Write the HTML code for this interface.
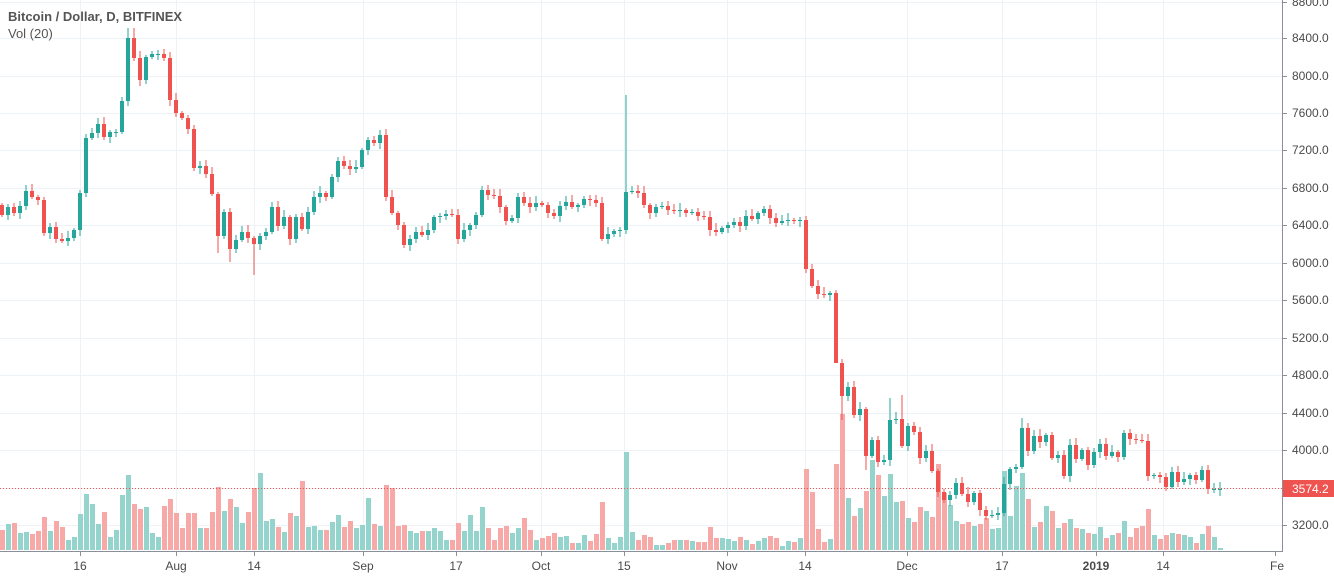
<!DOCTYPE html>
<html><head><meta charset="utf-8"><style>
html,body{margin:0;padding:0;background:#fff;width:1334px;height:576px;overflow:hidden}
svg{display:block}
text{font-family:"Liberation Sans",sans-serif}
</style></head><body>
<svg id="c" width="1334" height="576" xmlns="http://www.w3.org/2000/svg"></svg>
<script>
var C=[215,207,213,206,191,197,200,233,227,239,241,238,230,193,138,133,124,137,132,132,101,38,58,80,57,54,54,58,100,113,118,129,168,166,174,194,236,212,249,240,232,238,244,236,232,207,226,217,239,217,229,212,197,193,197,177,161,166,169,167,150,140,143,135,197,213,225,245,239,232,235,230,217,216,214,215,239,230,225,215,190,195,196,207,221,218,197,203,207,203,205,213,216,206,202,207,205,199,200,203,239,234,231,230,192,191,193,205,213,207,206,210,211,210,213,212,216,217,230,232,228,225,222,226,216,219,213,209,218,223,221,220,221,220,269,286,294,295,293,363,396,387,415,409,456,440,462,460,420,419,446,426,432,458,451,471,492,500,495,483,494,502,493,510,516,515,513,484,469,467,428,451,436,442,435,458,455,476,445,459,450,465,452,444,456,452,457,433,439,440,441,476,475,477,487,472,482,479,475,480,470,489,489,489];
var V=[20,26,27,17,18,16,19,33,19,29,23,10,13,36,56,46,26,38,13,20,55,75,46,41,43,17,13,44,51,37,22,37,37,22,22,38,63,39,51,43,27,38,62,77,29,31,23,18,37,34,69,23,24,20,20,28,35,23,29,22,25,52,26,24,65,62,24,25,19,17,19,19,22,19,10,10,27,19,35,19,43,22,10,22,24,17,22,32,20,10,12,14,17,13,14,7,7,15,9,16,48,12,7,13,98,18,10,15,13,5,5,7,10,10,10,9,8,8,23,12,12,11,9,13,10,6,9,12,14,12,4,9,8,12,81,58,21,8,11,86,136,52,34,42,59,90,75,54,76,48,49,32,28,43,39,33,86,57,45,29,26,28,24,26,32,21,22,79,34,64,77,51,23,28,44,39,22,27,31,22,21,17,16,23,12,15,17,29,13,22,24,41,15,11,15,17,16,15,13,7,16,24,13,2];
var hiO={21:28,22:28,64:129,104:95,148:398,150:395,170:418};
var loO={42:275,139:322,140:420,144:470,36:253,38:262};
var s='';
var GX=[80,176,254,363,456,541,624,727,805,907,1002,1096,1163];
var GY=[2,38,76,113,150,188,225,263,300,338,375,413,450,488,525];
GX.forEach(function(x){s+='<line x1="'+x+'.5" y1="0" x2="'+x+'.5" y2="551" stroke="#edf2f7"/>';});
GY.forEach(function(y){s+='<line x1="0" y1="'+y+'.5" x2="1282" y2="'+y+'.5" stroke="#edf2f7"/>';});
for(var i=0;i<C.length;i++){
 var h=V[i];var o=i?C[i-1]:205;var c=C[i];var up=c<=o;
 s+='<rect x="'+(6*i)+'" y="'+(550-h)+'" width="5" height="'+h+'" fill="'+(up?'#94d4cd':'#f7a9a7')+'"/>';
}
s+='<line x1="0" y1="488.5" x2="1282" y2="488.5" stroke="#ef5350" stroke-dasharray="1,2"/>';
for(var i=0;i<C.length;i++){
 var o=i?C[i-1]:205;var c=C[i];var up=c<=o;var col=up?'#26a69a':'#ef5350';
 var t=Math.min(o,c),b=Math.max(o,c);if(b-t<1)b=t+1;
 var hi=hiO[i]!==undefined?hiO[i]:t-(2+(i*7)%6);
 var lo=loO[i]!==undefined?loO[i]:b+(2+(i*3)%5);
 var x=6*i;
 s+='<line x1="'+(x+2)+'" y1="'+hi+'" x2="'+(x+2)+'" y2="'+lo+'" stroke="'+col+'" stroke-width="1"/>';
 s+='<rect x="'+x+'" y="'+t+'" width="4" height="'+(b-t)+'" fill="'+col+'"/>';
}
s+='<rect x="1283" y="0" width="51" height="576" fill="#fff"/>';
s+='<rect x="0" y="552" width="1283" height="24" fill="#fff"/>';
s+='<line x1="1282.5" y1="0" x2="1282.5" y2="552" stroke="#8a8f99"/>';
s+='<line x1="0" y1="551.5" x2="1283" y2="551.5" stroke="#8a8f99"/>';
var P=['8800.0','8400.0','8000.0','7600.0','7200.0','6800.0','6400.0','6000.0','5600.0','5200.0','4800.0','4400.0','4000.0','3600.0','3200.0'];
GY.forEach(function(y,k){
 s+='<line x1="1283" y1="'+y+'.5" x2="1287" y2="'+y+'.5" stroke="#8a8f99"/>';
 if(k!=13)s+='<text x="1292" y="'+(y+4)+'" font-size="12" fill="#4a4a4a">'+P[k]+'</text>';
});
s+='<rect x="1283" y="480" width="51" height="17" fill="#ef5350"/>';
s+='<text x="1292" y="493" font-size="12" fill="#fff">3574.2</text>';
var L=['16','Aug','14','Sep','17','Oct','15','Nov','14','Dec','17','2019','14'];
GX.forEach(function(x,k){
 s+='<line x1="'+x+'.5" y1="552" x2="'+x+'.5" y2="556" stroke="#8a8f99"/>';
 s+='<text x="'+x+'" y="570" font-size="12" fill="#4a4a4a" text-anchor="middle"'+(k==11?' font-weight="bold"':'')+'>'+L[k]+'</text>';
});
s+='<line x1="1275.5" y1="552" x2="1275.5" y2="556" stroke="#8a8f99"/>';
s+='<text x="1270" y="570" font-size="12" fill="#4a4a4a">Fe</text>';
s+='<text x="8" y="21" font-size="13" font-weight="bold" fill="#555">Bitcoin / Dollar, D, BITFINEX</text>';
s+='<text x="8" y="38" font-size="13" fill="#555">Vol (20)</text>';
document.getElementById('c').innerHTML=s;
</script>
</body></html>
